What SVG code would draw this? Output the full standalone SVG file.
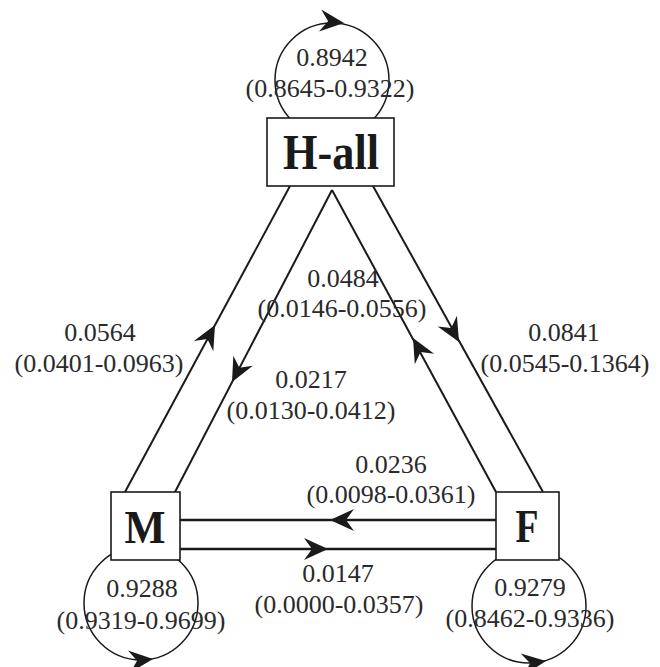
<svg xmlns="http://www.w3.org/2000/svg" xmlns:xlink="http://www.w3.org/1999/xlink" width="660" height="667" viewBox="0 0 660 667">
<style>
.ln{stroke:#1a1a1a;stroke-width:2;fill:none}
.hl{stroke:#1a1a1a;stroke-width:2.4;fill:none}
.lp{stroke:#1a1a1a;stroke-width:1.5;fill:none}
.bx{stroke:#1a1a1a;stroke-width:1.6;fill:#fff}
.lb{font-family:"Liberation Serif","Times New Roman",serif;font-size:26px;fill:#2a2a2a;text-anchor:middle}
.nd{font-family:"Liberation Serif","Times New Roman",serif;font-weight:bold;fill:#1a1a1a;text-anchor:middle}
.ah{fill:#1a1a1a}
</style>
<defs>
<path id="ah" d="M0,0 L-24,-11 L-16,0 L-24,11 Z"/>
</defs>
<g id="connectors">
<circle class="lp" cx="332" cy="80" r="57"/>
<circle class="lp" cx="141" cy="603" r="57"/>
<circle class="lp" cx="529" cy="606" r="57"/>
<line class="ln" x1="290" y1="186" x2="125" y2="492"/>
<line class="ln" x1="332" y1="190" x2="175" y2="492"/>
<line class="ln" x1="332" y1="190" x2="496" y2="492"/>
<line class="ln" x1="373" y1="186" x2="543" y2="492"/>
<line class="hl" x1="180" y1="520" x2="496" y2="520"/>
<line class="hl" x1="180" y1="549" x2="496" y2="549"/>
<use class="ah" href="#ah" transform="translate(344,23) rotate(6)"/>
<use class="ah" href="#ah" transform="translate(153,659) rotate(-6)"/>
<use class="ah" href="#ah" transform="translate(546,661) rotate(-8)"/>
<use class="ah" href="#ah" transform="translate(215,325) rotate(-61.7)"/>
<use class="ah" href="#ah" transform="translate(232,382) rotate(117.5)"/>
<use class="ah" href="#ah" transform="translate(413,338) rotate(-118.5)"/>
<use class="ah" href="#ah" transform="translate(459,342) rotate(60.9)"/>
<use class="ah" href="#ah" transform="translate(330,520) rotate(180)"/>
<use class="ah" href="#ah" transform="translate(328,549)"/>
</g>
<g id="node-hall">
<rect class="bx" x="267" y="118" width="127" height="68"/>
<text class="nd" x="331" y="169" font-size="50" textLength="96" lengthAdjust="spacingAndGlyphs">H-all</text>
</g>
<g id="node-m">
<rect class="bx" x="111" y="492" width="69" height="68"/>
<text class="nd" x="145" y="543" font-size="46" textLength="41" lengthAdjust="spacingAndGlyphs">M</text>
</g>
<g id="node-f">
<rect class="bx" x="496" y="492" width="63" height="68"/>
<text class="nd" x="527" y="542" font-size="46" textLength="23" lengthAdjust="spacingAndGlyphs">F</text>
</g>
<g id="labels">
<text class="lb" x="332" y="66">0.8942</text>
<text class="lb" x="330" y="97">(0.8645-0.9322)</text>
<text class="lb" x="142" y="597">0.9288</text>
<text class="lb" x="141" y="629">(0.9319-0.9699)</text>
<text class="lb" x="530" y="596">0.9279</text>
<text class="lb" x="530" y="627">(0.8462-0.9336)</text>
<text class="lb" x="100" y="341">0.0564</text>
<text class="lb" x="99" y="372">(0.0401-0.0963)</text>
<text class="lb" x="564" y="341">0.0841</text>
<text class="lb" x="565" y="372">(0.0545-0.1364)</text>
<text class="lb" x="343" y="287">0.0484</text>
<text class="lb" x="342" y="317">(0.0146-0.0556)</text>
<text class="lb" x="311" y="388">0.0217</text>
<text class="lb" x="311" y="419">(0.0130-0.0412)</text>
<text class="lb" x="391" y="473">0.0236</text>
<text class="lb" x="391" y="503">(0.0098-0.0361)</text>
<text class="lb" x="338" y="582">0.0147</text>
<text class="lb" x="339" y="613">(0.0000-0.0357)</text>
</g>
</svg>
